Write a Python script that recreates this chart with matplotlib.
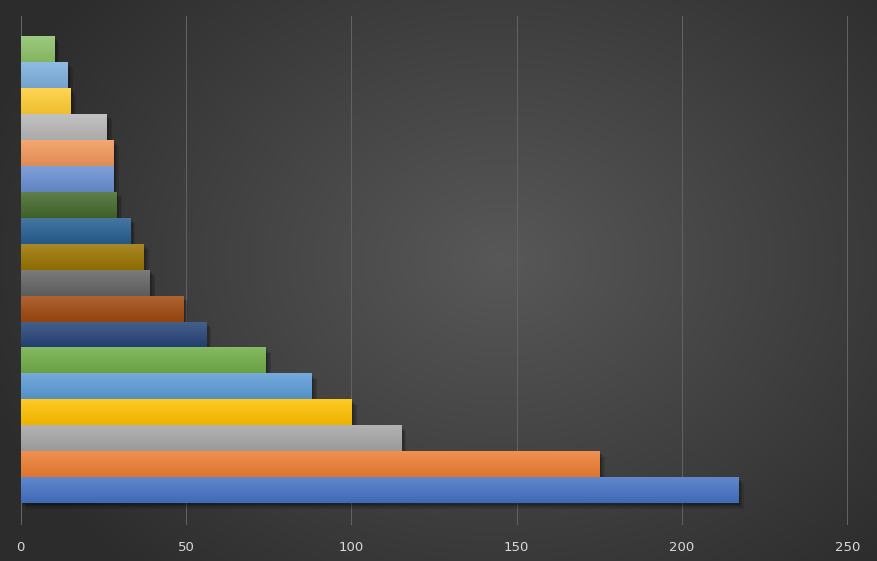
import numpy as np
import matplotlib
matplotlib.use('Agg')
import matplotlib.pyplot as plt
from matplotlib import colors as mcolors
from matplotlib import patheffects as pe

# values bottom -> top
values = [217, 175, 115, 100, 88, 74, 56, 49, 39, 37, 33, 29, 28, 28, 26, 15, 14, 10]
bar_colors = ['#4472C4', '#ED7D31', '#A5A5A5', '#FFC000', '#5B9BD5', '#70AD47',
              '#264478', '#9E480E', '#636363', '#997300', '#255E91', '#43682B',
              '#698ED0', '#F1975A', '#B7B7B7', '#FFCD33', '#7CAFDD', '#8CC168']
xticks = [0, 50, 100, 150, 200, 250]

W, H = 878, 561
fig = plt.figure(figsize=(W / 100, H / 100), dpi=100)

# radial background
bg = fig.add_axes([0, 0, 1, 1])
yy, xx = np.mgrid[0:H, 0:W]
r = np.sqrt(((xx - 500) / 540.0) ** 2 + ((yy - 260) / 420.0) ** 2)
r = np.clip(r, 0, 1)
shade = 0.345 - 0.17 * r
bg.imshow(np.dstack([shade, shade, shade]), extent=[0, 1, 0, 1], aspect='auto', origin='upper')
bg.set_axis_off()

left, right = 20.7 / W, 847.3 / W
bottom, top = (H - 524) / H, (H - 16) / H
ax = fig.add_axes([left, bottom, right - left, top - bottom])
ax.patch.set_alpha(0)

n = len(values)
ypos = np.arange(n)
shadow = [pe.SimplePatchShadow(offset=(k, -k), shadow_rgbFace='black', alpha=0.12) for k in (1, 2, 3, 4)]
bars = ax.barh(ypos, values, height=1.0, color=bar_colors, zorder=3,
               path_effects=shadow + [pe.Normal()])

grad = np.linspace(0, 1, 32).reshape(-1, 1)
for b, c in zip(bars, bar_colors):
    base = np.array(mcolors.to_rgb(c))
    light = base + (1 - base) * 0.15
    dark = base * 0.93
    img = light[None, None, :] * (1 - grad[:, :, None]) + dark[None, None, :] * grad[:, :, None]
    x0, y0 = b.get_x(), b.get_y()
    im = ax.imshow(img, extent=[x0, x0 + b.get_width(), y0, y0 + b.get_height()],
                   origin='upper', aspect='auto', zorder=4, interpolation='bilinear')
    im.set_clip_path(b)

ax.set_xlim(0, 250)
ax.set_ylim(-0.5 - 0.8, n - 0.5 + 0.77)
ax.set_xticks(xticks)
ax.set_yticks([])
ax.grid(axis='x', color='#626262', linewidth=0.75, zorder=0)
for gl in ax.get_xgridlines():
    gl.set_clip_on(False)
for s in ax.spines.values():
    s.set_visible(False)
ax.tick_params(axis='x', length=0, colors='#d9d9d9', labelsize=9.5, pad=12)

fig.savefig('out.png', dpi=100)
